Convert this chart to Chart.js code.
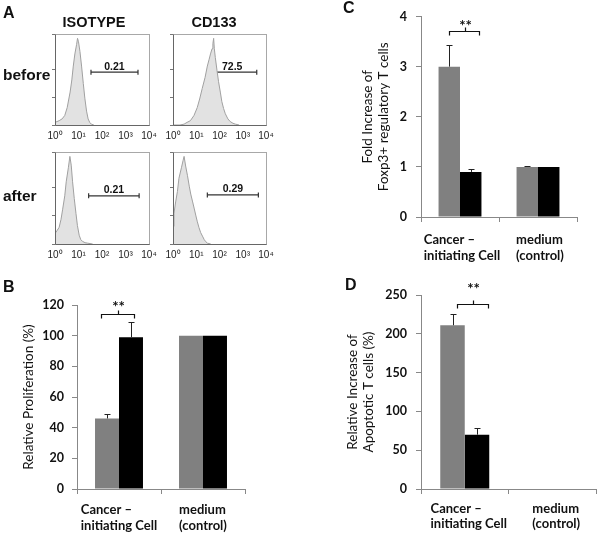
<!DOCTYPE html>
<html>
<head>
<meta charset="utf-8">
<script src="https://cdn.jsdelivr.net/npm/chart.js@4.4.1/dist/chart.umd.min.js"></script>
<style>
  body { margin: 0; background: #fff; }
  #fig { position: relative; width: 601px; height: 537px; overflow: hidden; }
  #fig canvas { position: absolute; left: 0; top: 0; }
  .lbl { position: absolute; font-family: "Liberation Sans", Arial, sans-serif; font-weight: bold; color: #111; white-space: nowrap; }
  .panel { font-size: 16px; line-height: 16px; }
  .col { font-size: 14.5px; line-height: 14px; width: 100px; text-align: center; }
  .row { font-size: 15.5px; line-height: 16px; }
</style>
</head>
<body>
<div id="fig">
  <canvas id="h1" width="601" height="537"></canvas>
  <canvas id="h2" width="601" height="537"></canvas>
  <canvas id="h3" width="601" height="537"></canvas>
  <canvas id="h4" width="601" height="537"></canvas>
  <canvas id="chartB" width="601" height="537"></canvas>
  <canvas id="chartC" width="601" height="537"></canvas>
  <canvas id="chartD" width="601" height="537"></canvas>

  <div class="lbl panel" style="left:3px;top:5px">A</div>
  <div class="lbl panel" style="left:3px;top:279px">B</div>
  <div class="lbl panel" style="left:343px;top:0px">C</div>
  <div class="lbl panel" style="left:345px;top:277px">D</div>
  <div class="lbl col" style="left:44px;top:15px">ISOTYPE</div>
  <div class="lbl col" style="left:164px;top:15px">CD133</div>
  <div class="lbl row" style="left:3px;top:67px">before</div>
  <div class="lbl row" style="left:3px;top:188px">after</div>
</div>

<script>
// ---- panel A: flow histograms (fluorescence vs % of max count) ----
var decades = [1, 10, 100, 1000, 10000];

var isoBeforeX = [1, 1.5, 2, 2.6, 3.3, 4.4, 5.2, 6, 7, 8.3, 9.1, 10, 11.5, 13.5, 16, 18.6, 22, 25.7, 30, 35, 45];
var isoBeforeY = [3, 5, 7, 11, 20, 38, 52, 68, 82, 93, 100, 96, 85, 68, 48, 31, 16, 7, 3, 1, 0];

var cdBeforeX = [1, 2, 3, 4, 5.6, 8, 11, 14, 18, 24, 30, 36, 41, 48, 52, 56, 60, 66, 78, 91, 110, 126, 150, 178, 230, 288, 380, 479, 700];
var cdBeforeY = [0, 0, 1, 3, 5, 11, 20, 30, 42, 55, 68, 76, 82, 88, 94, 100, 88, 78, 63, 50, 37, 27, 19, 13, 7, 4, 2, 1, 0];

var isoAfterX = [1, 1.2, 1.5, 1.8, 2.1, 2.6, 3, 3.7, 4.3, 4.9, 5.6, 6.6, 7.8, 9, 10.7, 12.5, 14.8, 19, 24, 40];
var isoAfterY = [12, 15, 19, 28, 39, 55, 71, 87, 100, 90, 71, 52, 35, 21, 10, 5, 3, 1.5, 1, 0];

var cdAfterX = [1, 1.1, 1.3, 1.55, 1.8, 2.3, 2.7, 3, 3.5, 4.2, 5, 5.8, 7, 8.1, 9.5, 11, 13, 15.5, 18.5, 22, 26, 30, 42];
var cdAfterY = [20, 35, 48, 60, 75, 87, 95, 100, 89, 78, 66, 57, 48, 41, 33, 26, 19, 13, 9, 5, 2.5, 1, 0];

// gate: [from, to, height]
var isoBeforeGate = [34, 3400, 61];
var cdBeforeGate = [31, 4000, 61];
var isoAfterGate = [27, 3800, 55];
var cdAfterGate = [30, 4700, 56];
var gateLabels = ['0.21', '72.5', '0.21', '0.29'];

// ---- panels B, C, D: bar charts ----
var categories = [['Cancer \u2013', 'initiating Cell'], ['medium', '(control)']];

var prolifGray = [46, 100];
var prolifGrayErr = [3, 0];
var prolifBlack = [99, 100];
var prolifBlackErr = [9.6, 0];

var foxpGray = [3.0, 1.0];
var foxpGrayErr = [0.43, 0.01];
var foxpBlack = [0.9, 1.0];
var foxpBlackErr = [0.05, 0];

var apopGray = [211, null];
var apopGrayErr = [14, 0];
var apopBlack = [70, null];
var apopBlackErr = [9, 0];

var W = 601, H = 537;
var sup = ['\u2070', '\u00b9', '\u00b2', '\u00b3', '\u2074'];

// frame around each histogram
var boxPlugin = {
    id: 'box',
    afterDatasetsDraw: function (chart) {
        var a = chart.chartArea, ctx = chart.ctx;
        ctx.save();
        ctx.lineWidth = 1;
        ctx.strokeStyle = '#a8a8a8';
        ctx.strokeRect(Math.round(a.left) + 0.5, Math.round(a.top) + 0.5, Math.round(a.right - a.left), Math.round(a.bottom - a.top));
        ctx.strokeStyle = '#666';
        ctx.beginPath();
        ctx.moveTo(Math.round(a.left) + 0.5, Math.round(a.top) + 0.5);
        ctx.lineTo(Math.round(a.left) + 0.5, Math.round(a.bottom) + 0.5);
        ctx.lineTo(Math.round(a.right) + 0.5, Math.round(a.bottom) + 0.5);
        ctx.stroke();
        ctx.restore();
    }
};

// number above the gate line
var gateLabel = {
    id: 'gateLabel',
    afterDatasetsDraw: function (chart) {
        var pts = chart.getDatasetMeta(1).data;
        var ctx = chart.ctx;
        ctx.save();
        ctx.font = 'bold 10.5px "Liberation Sans", Arial, sans-serif';
        ctx.fillStyle = '#111';
        ctx.textAlign = 'center';
        ctx.textBaseline = 'alphabetic';
        ctx.fillText(chart.data.datasets[1].gateLabel, (pts[0].x + pts[1].x) / 2, pts[0].y - 2.5);
        ctx.restore();
    }
};

function histPanel(id, area, xs, ys, gate, label) {
    var points = xs.map(function (x, i) { return { x: x, y: ys[i] }; });
    new Chart(document.getElementById(id), {
        type: 'line',
        data: {
            datasets: [{
                data: points,
                fill: 'origin',
                backgroundColor: '#e2e2e2',
                borderColor: '#a0a0a0',
                borderWidth: 1,
                pointRadius: 0,
                tension: 0
            }, {
                data: [{ x: gate[0], y: gate[2] }, { x: gate[1], y: gate[2] }],
                gateLabel: label,
                fill: false,
                borderColor: '#333',
                borderWidth: 1.3,
                pointStyle: 'line',
                rotation: 90,
                pointRadius: 2.5,
                pointBorderColor: '#333',
                pointBorderWidth: 1.2
            }]
        },
        options: {
            responsive: false,
            animation: false,
            events: [],
            layout: { padding: { left: area.l - 4, top: area.t, right: W - area.r, bottom: H - area.b - 20 } },
            plugins: { legend: { display: false }, tooltip: { enabled: false } },
            scales: {
                x: {
                    type: 'logarithmic',
                    min: 1,
                    max: 10000,
                    afterBuildTicks: function (s) { s.ticks = decades.map(function (v) { return { value: v }; }); },
                    ticks: {
                        autoSkip: false,
                        maxRotation: 0,
                        padding: 5,
                        color: '#222',
                        font: { family: '"Liberation Sans", Arial, sans-serif', size: 10 },
                        callback: function (v) { return '10' + sup[Math.round(Math.log10(v))]; }
                    },
                    grid: { drawOnChartArea: false, drawTicks: false },
                    border: { display: false },
                    afterFit: function (s) { s.height = 20; }
                },
                y: {
                    min: 0,
                    max: 105,
                    ticks: { display: false, stepSize: 32 },
                    grid: { drawOnChartArea: false, tickLength: 3, color: '#777' },
                    border: { display: false },
                    afterFit: function (s) { s.width = 4; }
                }
            }
        },
        plugins: [boxPlugin, gateLabel]
    });
}

histPanel('h1', { l: 55, t: 34, r: 149, b: 125 }, isoBeforeX, isoBeforeY, isoBeforeGate, gateLabels[0]);
histPanel('h2', { l: 173, t: 34, r: 266, b: 125 }, cdBeforeX, cdBeforeY, cdBeforeGate, gateLabels[1]);
histPanel('h3', { l: 55, t: 152, r: 149, b: 244 }, isoAfterX, isoAfterY, isoAfterGate, gateLabels[2]);
histPanel('h4', { l: 173, t: 152, r: 266, b: 244 }, cdAfterX, cdAfterY, cdAfterGate, gateLabels[3]);

// upper error bars (Excel style)
var errorBars = {
    id: 'errorBars',
    afterDatasetsDraw: function (chart) {
        var ctx = chart.ctx, y = chart.scales.y;
        chart.data.datasets.forEach(function (ds, i) {
            chart.getDatasetMeta(i).data.forEach(function (bar, j) {
                var v = ds.data[j], e = ds.err[j];
                if (v == null || !e) return;
                var top = Math.round(y.getPixelForValue(v + e)) + 0.5;
                var x = Math.round(bar.x) + 0.5;
                ctx.save();
                ctx.strokeStyle = '#222';
                ctx.lineWidth = 1;
                ctx.beginPath();
                ctx.moveTo(x, bar.y);
                ctx.lineTo(x, top);
                ctx.moveTo(x - 3, top);
                ctx.lineTo(x + 3, top);
                ctx.stroke();
                ctx.restore();
            });
        });
    }
};

// significance bracket with stars
var bracket = {
    id: 'bracket',
    afterDatasetsDraw: function (chart, args, o) {
        var g = chart.getDatasetMeta(0).data[0], b = chart.getDatasetMeta(1).data[0];
        var x1 = Math.round(g.x - g.width / 2 + g.width * o.from) + 0.5;
        var x2 = Math.round(b.x - b.width / 2 + b.width * o.to) + 0.5;
        var mid = Math.round((x1 + x2) / 2) + 0.5;
        var yy = Math.round(chart.scales.y.getPixelForValue(o.y)) + 0.5;
        var ctx = chart.ctx;
        ctx.save();
        ctx.strokeStyle = '#111';
        ctx.lineWidth = 1.2;
        ctx.beginPath();
        ctx.moveTo(x1, yy + 4);
        ctx.lineTo(x1, yy);
        ctx.lineTo(x2, yy);
        ctx.lineTo(x2, yy + 4);
        ctx.moveTo(mid, yy);
        ctx.lineTo(mid, yy - 4);
        ctx.stroke();
        ctx.font = 'bold 15px Lato, sans-serif';
        ctx.fillStyle = '#111';
        ctx.textAlign = 'center';
        ctx.textBaseline = 'alphabetic';
        ctx.fillText('**', mid, yy - o.starGap + 8.5);
        ctx.restore();
    }
};

// two-line category labels, lines left-aligned inside a centered block
var catLabels = {
    id: 'catLabels',
    afterDraw: function (chart, args, o) {
        var x = chart.scales.x, ctx = chart.ctx;
        ctx.save();
        ctx.font = 'bold 13px Lato, sans-serif';
        ctx.fillStyle = '#111';
        ctx.textAlign = 'left';
        ctx.textBaseline = 'middle';
        chart.data.labels.forEach(function (lines, i) {
            var w = Math.max.apply(null, lines.map(function (s) { return ctx.measureText(s).width; }));
            var left = x.getPixelForValue(i) - w / 2 + o.shift;
            lines.forEach(function (s, k) {
                ctx.fillText(s, left, chart.chartArea.bottom + o.first + k * o.gap);
            });
        });
        ctx.restore();
    }
};

function barPanel(id, p) {
    new Chart(document.getElementById(id), {
        type: 'bar',
        data: {
            labels: categories,
            datasets: [
                { data: p.gray, err: p.grayErr, backgroundColor: '#808080' },
                { data: p.black, err: p.blackErr, backgroundColor: '#000000' }
            ]
        },
        options: {
            responsive: false,
            animation: false,
            events: [],
            layout: { padding: { left: p.area.l - p.yw, top: p.area.t, right: W - p.area.r, bottom: H - p.area.b - 45 } },
            datasets: { bar: { categoryPercentage: p.cat, barPercentage: 1 } },
            plugins: {
                legend: { display: false },
                tooltip: { enabled: false },
                bracket: p.bracket,
                catLabels: p.labels
            },
            scales: {
                x: {
                    grid: { drawOnChartArea: false, tickLength: 5, color: '#888', offset: true },
                    border: { color: '#888' },
                    ticks: { display: false },
                    afterFit: function (s) { s.height = 45; }
                },
                y: {
                    min: 0,
                    max: p.max,
                    ticks: { stepSize: p.step, padding: p.pad, color: '#111', font: { family: 'Lato, sans-serif', size: 12.5, weight: 'bold' } },
                    grid: { drawOnChartArea: false, tickLength: 5, color: '#888' },
                    border: { color: '#888' },
                    title: {
                        display: true,
                        text: p.title,
                        padding: 0,
                        color: '#111',
                        font: { family: 'Lato, sans-serif', size: 13.5, lineHeight: 1.22 }
                    },
                    afterFit: function (s) { s.width = p.yw; }
                }
            }
        },
        plugins: [errorBars, bracket, catLabels]
    });
}

barPanel('chartB', {
    area: { l: 77, t: 305, r: 245, b: 489 }, yw: 57, cat: 0.571, pad: 8,
    max: 120, step: 20, title: 'Relative Proliferation (%)',
    gray: prolifGray, grayErr: prolifGrayErr, black: prolifBlack, blackErr: prolifBlackErr,
    bracket: { y: 114, from: 0.25, to: 0.63, starGap: 11 },
    labels: { first: 21, gap: 16, shift: 0 }
});

barPanel('chartC', {
    area: { l: 421, t: 13, r: 577, b: 217 }, yw: 62, cat: 0.55, pad: 9,
    max: 4, step: 1, title: ['Fold Increase of', 'Foxp3+ regulatory T cells'],
    gray: foxpGray, grayErr: foxpGrayErr, black: foxpBlack, blackErr: foxpBlackErr,
    bracket: { y: 3.72, from: 0.5, to: 0.9, starGap: 9 },
    labels: { first: 23, gap: 16, shift: 2 }
});

barPanel('chartD', {
    area: { l: 421, t: 295, r: 596, b: 489 }, yw: 77, cat: 0.56, pad: 9,
    max: 250, step: 50, title: ['Relative Increase of', 'Apoptotic T cells (%)'],
    gray: apopGray, grayErr: apopGrayErr, black: apopBlack, blackErr: apopBlackErr,
    bracket: { y: 238.5, from: 0.7, to: 0.96, starGap: 19 },
    labels: { first: 20, gap: 15, shift: 4 }
});
</script>
</body>
</html>
